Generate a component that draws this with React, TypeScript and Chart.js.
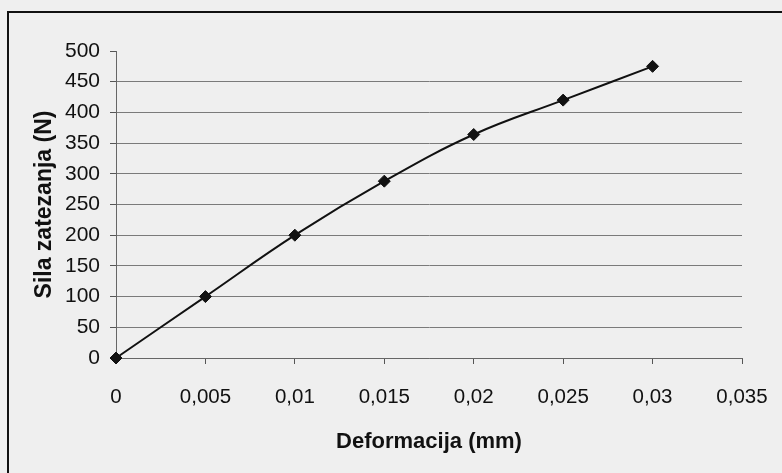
import React, { useEffect, useRef } from "react";
import { Chart, registerables } from "chart.js";

Chart.register(...registerables);

const deformacija = [0, 0.005, 0.01, 0.015, 0.02, 0.025, 0.03];
const sila = [0, 100, 200, 288, 364, 420, 475];

const xTitle = "Deformacija (mm)";
const yTitle = "Sila zatezanja (N)";

const FONT = "'Liberation Sans', Arial, sans-serif";

export default function App() {
  const ref = useRef<HTMLCanvasElement | null>(null);

  useEffect(() => {
    if (!ref.current) return;
    const chart = new Chart(ref.current, {
      type: "line",
      data: {
        datasets: [
          {
            data: deformacija.map((x, i) => ({ x, y: sila[i] })),
            borderColor: "#111",
            borderWidth: 2,
            backgroundColor: "#111",
            pointStyle: "rectRot",
            pointRadius: 6,
            pointBorderWidth: 1,
            pointBorderColor: "#111",
            pointBackgroundColor: "#111",
            tension: 0.4,
            fill: false,
            clip: false,
          },
        ],
      },
      options: {
        animation: false,
        responsive: false,
        maintainAspectRatio: false,
        layout: { padding: { left: 0, right: 40, top: 51, bottom: 0 } },
        plugins: {
          legend: { display: false },
          tooltip: { enabled: false },
        },
        scales: {
          x: {
            type: "linear",
            min: 0,
            max: 0.035,
            afterFit: (s: any) => {
              s.height = 115;
              s.paddingLeft = 0;
              s.paddingRight = 0;
            },
            ticks: {
              stepSize: 0.005,
              color: "#111",
              padding: 21,
              maxRotation: 0,
              font: { family: FONT, size: 20.5 },
              callback: (v: any) =>
                String(Number(Number(v).toFixed(3))).replace(".", ","),
            },
            grid: {
              drawOnChartArea: false,
              drawTicks: true,
              tickLength: 6,
              tickColor: "#555",
            },
            border: { color: "#666", width: 1 },
            title: {
              display: true,
              text: xTitle,
              color: "#111",
              font: { family: FONT, size: 22, weight: "bold" },
              padding: { top: 0, bottom: 18 },
            },
          },
          y: {
            type: "linear",
            min: 0,
            max: 500,
            afterFit: (s: any) => {
              s.width = 116;
              s.paddingTop = 0;
              s.paddingBottom = 0;
            },
            ticks: {
              stepSize: 50,
              color: "#111",
              padding: 10,
              font: { family: FONT, size: 21 },
            },
            grid: {
              color: (ctx: any) =>
                ctx.tick && ctx.tick.value === 500 ? "rgba(0,0,0,0)" : "#7a7a7a",
              tickColor: "#555",
              tickLength: 6,
              lineWidth: 1,
            },
            border: { color: "#666", width: 1 },
            title: {
              display: true,
              text: yTitle,
              color: "#111",
              font: { family: FONT, size: 23, weight: "bold" },
              padding: { top: 31, bottom: 0 },
            },
          },
        },
      },
    });
    return () => chart.destroy();
  }, []);

  return (
    <div
      style={{
        position: "fixed",
        left: 0,
        top: 0,
        width: 782,
        height: 473,
        background: "#efefef",
        overflow: "hidden",
      }}
    >
      <div
        style={{
          position: "absolute",
          left: 7,
          top: 11,
          width: 900,
          height: 600,
          borderTop: "2px solid #111",
          borderLeft: "2px solid #111",
        }}
      />
      <canvas
        ref={ref}
        width={782}
        height={473}
        style={{ position: "absolute", left: 0, top: 0, width: 782, height: 473 }}
      />
    </div>
  );
}
